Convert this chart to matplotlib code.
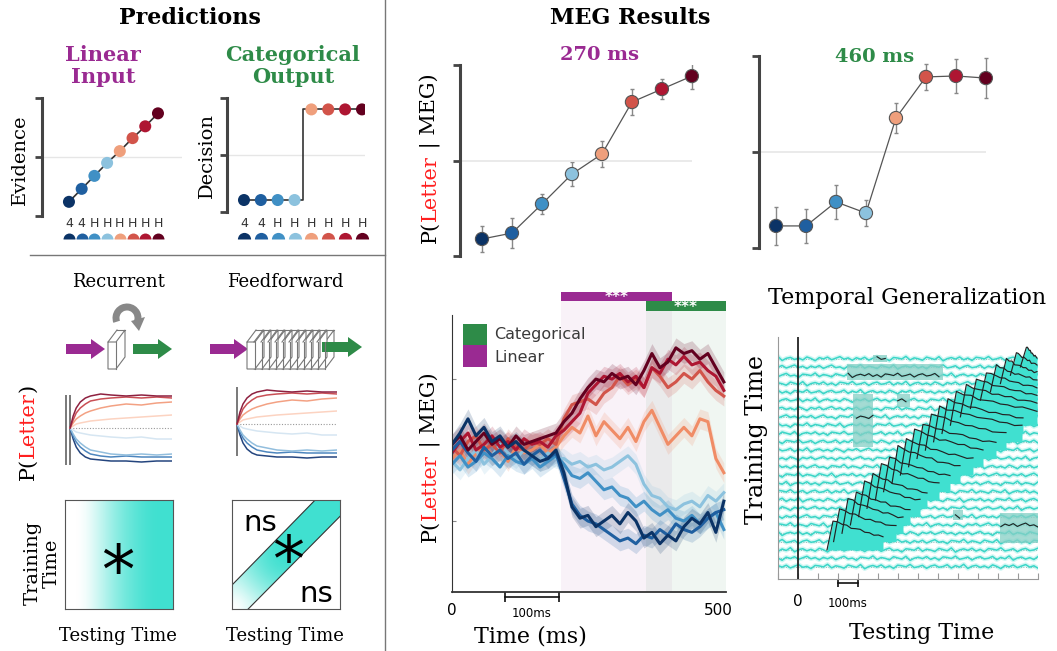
import numpy as np
import matplotlib
matplotlib.use('Agg')
from matplotlib import pyplot as plt
from matplotlib import patches
from matplotlib.colors import LinearSegmentedColormap

W, H = 1057, 651
SERIF = 'DejaVu Serif'
SANS = 'DejaVu Sans'
PURPLE = '#9a2a92'
GREEN = '#2e8b48'
TURQ = '#40e0d0'
LETTER_RED = '#ff1f1f'

# ---------------- data ----------------
stim_idx = [1, 2, 3, 4, 5, 6, 7, 8]
stim_glyphs = ['4', '4', 'H', 'H', 'H', 'H', 'H', 'H']
stim_colors = ['#0b3366', '#1f5fa0', '#4090c5', '#8cc2de', '#ef9f7c', '#d2544a', '#ae1632', '#63001f']

# predictions
linear_evidence = [0.12, 0.23, 0.34, 0.45, 0.55, 0.66, 0.76, 0.87]
categorical_decision = [0.105, 0.105, 0.105, 0.105, 0.90, 0.90, 0.90, 0.90]

# model simulations (offset from chance, arbitrary units)
sim_step = [0, 3, 6, 10, 15, 20, 30, 40, 55, 70, 85, 100]
sim_navy = [0, -11, -19, -25, -29, -31, -32, -33, -33, -34, -33, -33]
sim_blue = [0, -8, -14, -19, -23, -26, -28, -29, -28, -29, -29, -29]
sim_midblue = [0, -6, -11, -15, -19, -22, -24, -26, -27, -26, -27, -26]
sim_ltblue = [0, -2, -4, -5, -6, -7, -8, -9, -10, -9, -11, -11]
sim_pink = [0, 2, 4, 5, 6, 7, 8, 9, 10, 11, 12, 13]
sim_salmon = [0, 5, 9, 12, 15, 17, 20, 22, 24, 23, 25, 26]
sim_red = [0, 8, 15, 20, 24, 27, 29, 30, 31, 30, 31, 30]
sim_dkred = [0, 12, 20, 26, 30, 32, 34, 33, 32, 33, 32, 32]
sim_colors = ['#24457e', '#4d86be', '#92bedd', '#d6e6f2', '#fcd3c1', '#f3a183', '#c94f55', '#8e2140']

# MEG decoding at two latencies
meg_270 = [0.089, 0.12, 0.272, 0.429, 0.534, 0.806, 0.874, 0.942]
meg_270_err = [0.068, 0.079, 0.052, 0.063, 0.068, 0.068, 0.052, 0.068]
meg_460 = [0.115, 0.115, 0.24, 0.182, 0.677, 0.891, 0.896, 0.885]
meg_460_err = [0.099, 0.089, 0.089, 0.068, 0.078, 0.068, 0.089, 0.104]

# MEG time course (ms)
tc_time = list(range(0, 511, 15))
tc_navy = [0.52, 0.56, 0.61, 0.55, 0.58, 0.53, 0.55, 0.51, 0.53, 0.50, 0.48, 0.46, 0.47, 0.50,
           0.42, 0.30, 0.26, 0.27, 0.23, 0.25, 0.27, 0.24, 0.28, 0.25, 0.19, 0.21, 0.17, 0.20,
           0.18, 0.23, 0.26, 0.24, 0.28, 0.21, 0.32]
tc_blue = [0.50, 0.53, 0.49, 0.46, 0.51, 0.48, 0.50, 0.47, 0.49, 0.45, 0.48, 0.50, 0.47, 0.49,
           0.40, 0.31, 0.27, 0.25, 0.24, 0.22, 0.20, 0.18, 0.19, 0.17, 0.20, 0.19, 0.22, 0.20,
           0.24, 0.22, 0.21, 0.23, 0.26, 0.28, 0.29]
tc_midblue = [0.45, 0.48, 0.44, 0.46, 0.49, 0.47, 0.44, 0.48, 0.46, 0.45, 0.47, 0.44, 0.46, 0.48,
              0.45, 0.41, 0.40, 0.42, 0.39, 0.36, 0.37, 0.34, 0.33, 0.30, 0.32, 0.29, 0.27, 0.29,
              0.26, 0.25, 0.27, 0.24, 0.26, 0.28, 0.22]
tc_ltblue = [0.46, 0.43, 0.47, 0.50, 0.45, 0.48, 0.52, 0.49, 0.47, 0.50, 0.48, 0.46, 0.49, 0.47,
             0.47, 0.45, 0.46, 0.44, 0.45, 0.43, 0.44, 0.46, 0.48, 0.45, 0.38, 0.34, 0.33, 0.30,
             0.29, 0.31, 0.32, 0.30, 0.34, 0.32, 0.35]
tc_salmon = [0.47, 0.50, 0.45, 0.49, 0.52, 0.48, 0.50, 0.46, 0.51, 0.49, 0.50, 0.52, 0.49, 0.51,
             0.55, 0.58, 0.56, 0.62, 0.55, 0.60, 0.57, 0.54, 0.58, 0.53, 0.60, 0.64, 0.58, 0.52,
             0.55, 0.58, 0.55, 0.61, 0.60, 0.47, 0.42]
tc_orange = [0.51, 0.48, 0.53, 0.55, 0.50, 0.52, 0.49, 0.54, 0.51, 0.50, 0.53, 0.52, 0.54, 0.52,
             0.61, 0.66, 0.67, 0.68, 0.66, 0.70, 0.72, 0.76, 0.73, 0.75, 0.72, 0.79, 0.76, 0.72,
             0.74, 0.77, 0.75, 0.78, 0.74, 0.71, 0.69]
tc_red = [0.49, 0.53, 0.56, 0.50, 0.52, 0.55, 0.51, 0.53, 0.50, 0.54, 0.52, 0.53, 0.51, 0.55,
          0.57, 0.60, 0.63, 0.70, 0.73, 0.76, 0.75, 0.77, 0.74, 0.76, 0.72, 0.79, 0.77, 0.82,
          0.80, 0.83, 0.80, 0.81, 0.78, 0.76, 0.71]
tc_dkred = [0.52, 0.55, 0.50, 0.53, 0.56, 0.52, 0.54, 0.51, 0.55, 0.52, 0.53, 0.54, 0.55, 0.56,
            0.60, 0.63, 0.68, 0.72, 0.75, 0.74, 0.77, 0.75, 0.76, 0.73, 0.78, 0.84, 0.79, 0.81,
            0.86, 0.84, 0.85, 0.82, 0.84, 0.79, 0.74]
linear_window = (204, 412)
categorical_window = (364, 514)

# temporal generalization
tg_rows = list(range(26))
tg_wiggle = [0.12, -0.08, 0.18, -0.2, 0.05, 0.25, -0.1, 0.02, -0.28, 0.15, 0.08, -0.05, 0.3,
             -0.18, 0.1, -0.02, -0.22, 0.2, 0.04, -0.12, 0.26, -0.3, 0.0, 0.14, -0.06, 0.22,
             -0.16, 0.08, -0.25, 0.18, 0.1, -0.04, 0.28, -0.14, -0.02, 0.16, -0.24, 0.06, 0.2,
             -0.1, 0.0, 0.24, -0.2, 0.12, -0.08, 0.3, -0.26, 0.04, 0.16, -0.12, 0.08, -0.18,
             0.22, 0.02, -0.28, 0.14, -0.04, 0.2, -0.15, 0.06, 0.26, -0.08, 0.1, -0.22]
tg_sig_rows = list(range(2, 25))
tg_sig_start = [175, 208, 250, 292, 333, 375, 417, 458, 500, 542, 583, 625, 667, 708, 750,
                792, 842, 892, 942, 992, 1042, 1092, 1142]
tg_sig_end = [425, 490, 525, 560, 610, 645, 705, 760, 810, 875, 925, 990, 1040, 1120, 1125,
              1195, 1195, 1195, 1195, 1195, 1195, 1195, 1195]
tg_sig_height = [3.6, 4.0, 4.2, 4.0, 4.3, 4.1, 4.4, 4.2, 4.5, 4.3, 4.5, 4.2, 4.4, 4.3, 4.1,
                 4.0, 3.8, 3.6, 3.4, 3.2, 3.0, 2.8, 2.5]
tg_decay = [1.0, 0.92, 0.86, 0.8, 0.74, 0.7, 0.65, 0.6, 0.56, 0.52, 0.48, 0.45]
# weaker off-diagonal clusters: (t0, t1, row_lo, row_hi)
tg_patches = [(245, 725, 22.4, 24.4), (275, 375, 14.4, 20.8), (375, 445, 24.6, 25.4),
              (495, 560, 19.2, 20.8), (1010, 1200, 2.8, 6.4), (775, 825, 5.6, 6.8)]

# ---------------- figure ----------------
fig = plt.figure(figsize=(W / 100, H / 100), dpi=100)
fig.patch.set_facecolor('white')


def px_axes(x0, y0, x1, y1):
    return fig.add_axes([x0 / W, 1 - y1 / H, (x1 - x0) / W, (y1 - y0) / H])


def bracket(ax, ticks):
    for s in ['top', 'right', 'bottom']:
        ax.spines[s].set_visible(False)
    ax.spines['left'].set_linewidth(2.2)
    ax.spines['left'].set_color('#444')
    ax.set_yticks(ticks)
    ax.set_yticklabels([])
    ax.tick_params(axis='y', length=5, width=2, color='#444')
    ax.set_xticks([])
    ax.patch.set_alpha(0)


# --- prediction: linear input
ax = px_axes(42, 98, 182, 216)
ax.set_xlim(-1.12, 9.89)
ax.set_ylim(0, 1)
bracket(ax, [0, 0.5, 1])
ax.hlines(0.5, -1.12, 9.89, color='#e6e6e6', lw=1)
ax.plot(stim_idx, linear_evidence, color='#333', lw=1.2, zorder=2)
ax.scatter(stim_idx, linear_evidence, s=75, c=stim_colors, zorder=3, lw=0)
for i, g in zip(stim_idx, stim_glyphs):
    ax.text(i, -0.06, g, ha='center', va='center', fontsize=9, color='#333',
            family=SANS, clip_on=False)
for i, c in zip(stim_idx, stim_colors):
    ax.plot(i, -0.195, 'o', ms=8.6, fillstyle='top', color=c, mec='none', clip_on=False)

# --- prediction: categorical output
ax = px_axes(227, 98, 365, 212)
ax.set_xlim(-0.008, 8.18)
ax.set_ylim(0, 1)
bracket(ax, [0, 0.5, 1])
ax.hlines(0.5, -0.008, 8.18, color='#e6e6e6', lw=1)
ax.step(stim_idx, categorical_decision, where='mid', color='#333', lw=1.2, zorder=2)
ax.scatter(stim_idx, categorical_decision, s=75, c=stim_colors, zorder=3, lw=0)
for i, g in zip(stim_idx, stim_glyphs):
    ax.text(i, -0.1, g, ha='center', va='center', fontsize=9, color='#333',
            family=SANS, clip_on=False)
for i, c in zip(stim_idx, stim_colors):
    ax.plot(i, -0.237, 'o', ms=9.5, fillstyle='top', color=c, mec='none', clip_on=False)

# --- model simulations
sims = [sim_navy, sim_blue, sim_midblue, sim_ltblue, sim_pink, sim_salmon, sim_red, sim_dkred]
for rect, ylim, recurrent in [((65, 387, 172, 466), (-38, 41), True),
                              ((236, 387, 337, 466), (-42, 37), False)]:
    ax = px_axes(*rect)
    ax.set_xlim(-5 if recurrent else -1, 100)
    ax.set_ylim(*ylim)
    ax.axis('off')
    ax.hlines(0, 0, 100, color='#999', lw=0.8, linestyles=(0, (1, 1.5)))
    if recurrent:
        ax.vlines([-4, 0], -37, 33, color='#555', lw=1.1)
    else:
        ax.vlines([0], -32, 41, color='#555', lw=1.1)
    for vals, c in zip(sims, sim_colors):
        ax.plot(sim_step, vals, color=c, lw=1.1)

# --- generalization schematics
white_turq = LinearSegmentedColormap.from_list('wt', ['white', TURQ])
grad_stops = [0.0, 0.0, 0.15, 0.35, 0.55, 0.72, 0.85, 0.95, 1.0, 1.0]
ax = px_axes(65, 500, 173, 609)
ax.imshow([grad_stops], cmap=white_turq, extent=(0, 1, 0, 1), aspect='auto',
          interpolation='bicubic', vmin=0, vmax=1)
ax.set_xlim(0, 1)
ax.set_ylim(0, 1)
ax.set_xticks([])
ax.set_yticks([])
for s in ax.spines.values():
    s.set_color('#555')
ax.text(0.49, 0.32, '*', ha='center', va='center', fontsize=48, family=SANS)

diag_stops = np.array([0.0, 0.3, 0.6, 0.85, 1, 1, 1, 1, 1, 1])
ax = px_axes(232, 500, 340, 609)
im = ax.imshow((diag_stops[None, :] + diag_stops[:, None]) / 2, cmap=white_turq,
               extent=(0, 1, 0, 1), origin='lower', aspect='auto',
               interpolation='bicubic', vmin=0, vmax=1)
band = patches.Polygon([(0, 0), (0.15, 0), (1, 0.85), (1, 1), (0.77, 1), (0, 0.22)],
                       transform=ax.transData, fc='none', ec='none')
ax.add_patch(band)
im.set_clip_path(band)
ax.plot([0, 0.77], [0.22, 1], color='#333', lw=0.8)
ax.plot([0.15, 1], [0, 0.85], color='#333', lw=0.8)
ax.set_xlim(0, 1)
ax.set_ylim(0, 1)
ax.set_xticks([])
ax.set_yticks([])
for s in ax.spines.values():
    s.set_color('#555')
ax.text(0.26, 0.79, 'ns', ha='center', va='center', fontsize=21, family=SANS)
ax.text(0.78, 0.14, 'ns', ha='center', va='center', fontsize=21, family=SANS)
ax.text(0.52, 0.42, '*', ha='center', va='center', fontsize=46, family=SANS)

# --- MEG 270 / 460 ms
for rect, xlim, vals, errs in [((460, 65, 700, 256), (0.267, 8.27), meg_270, meg_270_err),
                               ((759, 56, 1000, 248), (0.433, 8.47), meg_460, meg_460_err)]:
    ax = px_axes(*rect)
    ax.set_xlim(*xlim)
    ax.set_ylim(0, 1)
    bracket(ax, [0, 0.5, 1])
    ax.hlines(0.5, xlim[0], 8, color='#e6e6e6', lw=1.2)
    ax.errorbar(stim_idx, vals, yerr=errs, fmt='none', ecolor='#888', elinewidth=1,
                capsize=1.5, zorder=1)
    ax.plot(stim_idx, vals, color='#555', lw=0.9, zorder=2)
    ax.scatter(stim_idx, vals, s=90, c=stim_colors, edgecolors='#555', lw=0.8, zorder=3)

# --- MEG time course
ax = px_axes(452, 301, 726, 592)
ax.set_xlim(0, 514)
ax.set_ylim(0, 1.025)
ax.axvspan(*linear_window, color=PURPLE, alpha=0.06, lw=0, zorder=0)
ax.axvspan(*categorical_window, color=GREEN, alpha=0.07, lw=0, zorder=0)
tc_series = [tc_salmon, tc_ltblue, tc_orange, tc_midblue, tc_red, tc_blue, tc_dkred, tc_navy]
tc_colors = ['#f08c66', '#8cc2de', '#d2544a', '#4090c5', '#ae1632', '#1f5fa0', '#63001f', '#0b3366']
for vals, c in zip(tc_series, tc_colors):
    v = np.array(vals)
    ax.fill_between(tc_time, v - 0.035, v + 0.035, color=c, alpha=0.18, lw=0, zorder=1)
    ax.plot(tc_time, v, color=c, lw=2.2, zorder=2)
for s in ['top', 'right']:
    ax.spines[s].set_visible(False)
ax.spines['left'].set_bounds(0, 0.975)
ax.spines['left'].set_color('#333')
ax.spines['bottom'].set_color('#333')
ax.spines['bottom'].set_linewidth(1.3)
ax.set_yticks([0.25, 0.5, 0.75])
ax.set_yticklabels([])
ax.tick_params(axis='y', direction='in', length=3, color='#888')
ax.set_xticks([0, 500])
ax.set_xticklabels(['0', '500'], family=SANS, fontsize=11)
ax.tick_params(axis='x', length=0, pad=8)
ax.patch.set_alpha(0)
ax.add_patch(patches.Rectangle((linear_window[0], 1.025), linear_window[1] - linear_window[0],
                               0.032, color=PURPLE, clip_on=False, lw=0))
ax.text(sum(linear_window) / 2, 1.036, '***', color='white', ha='center', va='center',
        fontsize=11, fontweight='bold', family=SANS, clip_on=False)
ax.add_patch(patches.Rectangle((categorical_window[0], 0.99),
                               categorical_window[1] - categorical_window[0], 0.035,
                               color=GREEN, clip_on=False, lw=0))
ax.text(sum(categorical_window) / 2, 1.002, '***', color='white', ha='center', va='center',
        fontsize=11, fontweight='bold', family=SANS, clip_on=False)
ax.plot([100, 200], [-0.018, -0.018], color='#111', lw=1.2, clip_on=False)
ax.vlines([100, 200], -0.035, 0.0, color='#111', lw=1.2, clip_on=False)
ax.text(150, -0.074, '100ms', ha='center', va='center', fontsize=8.5, family=SANS,
        clip_on=False)

# --- temporal generalization
ax = px_axes(778, 337, 1038, 579)
ax.set_xlim(-100, 1200)
ax.set_ylim(-1.5, 27.6)
tg_grid = np.linspace(-100, 1200, len(tg_wiggle))
wig = np.array(tg_wiggle)
ax.hlines(tg_rows, -100, 1200, colors='#9a9a9a', lw=0.6, linestyles=(0, (1, 2)), zorder=1)
row_lines = {}
for k in tg_rows:
    yk = k + 0.9 * np.roll(wig, 11 * k)
    row_lines[k] = yk
    ax.plot(tg_grid, yk, color=TURQ, lw=3.2, alpha=0.25, zorder=1)
    ax.plot(tg_grid, yk, color='#3bd6c8', lw=1.1, zorder=1)
for t0, t1, k0, k1 in tg_patches:
    ax.add_patch(patches.Rectangle((t0, k0), t1 - t0, k1 - k0, color='#86cfc5', alpha=0.75,
                                   lw=0, zorder=2))
    k = int(round((k0 + k1) / 2))
    m = (tg_grid >= t0) & (tg_grid <= t1)
    ax.plot(tg_grid[m], row_lines[k][m], color='#222', lw=0.8, zorder=4)
blacks = []
for k, ts, te, h in zip(tg_sig_rows, tg_sig_start, tg_sig_end, tg_sig_height):
    x = np.r_[ts - 30, np.linspace(ts, te, len(tg_decay))]
    y = np.r_[k, k + h * np.array(tg_decay) + 0.5 * np.roll(wig, 5 * k)[:len(tg_decay)]]
    ax.fill_between(x, k, y, color=TURQ, lw=0, zorder=3)
    blacks.append((x, y))
for xs, ys in blacks:
    ax.plot(xs, ys, color='#222', lw=0.85, zorder=4)
ax.axvline(0, color='#222', lw=1.3, zorder=5)
for s in ['top', 'right']:
    ax.spines[s].set_visible(False)
ax.spines['left'].set_color('#999')
ax.spines['bottom'].set_color('#999')
ax.set_xticks(range(-100, 1201, 100))
ax.set_xticklabels([])
ax.set_yticks([])
ax.tick_params(axis='x', direction='in', length=4, color='#999')
ax.patch.set_alpha(0)
ax.text(0, -4.2, '0', ha='center', va='center', fontsize=11, family=SANS, clip_on=False)
ax.plot([200, 300], [-2.0, -2.0], color='#111', lw=1.2, clip_on=False)
ax.vlines([200, 300], -2.5, -1.5, color='#111', lw=1.2, clip_on=False)
ax.text(250, -4.4, '100ms', ha='center', va='center', fontsize=8.5, family=SANS,
        clip_on=False)

# ---------------- overlay text and schematics ----------------
cv = fig.add_axes([0, 0, 1, 1], zorder=10)
cv.set_xlim(0, W)
cv.set_ylim(H, 0)
cv.axis('off')

cv.plot([385, 385], [0, H], color='#777', lw=1)
cv.plot([30, 385], [255, 255], color='#777', lw=1)

cv.text(190, 18, 'Predictions', ha='center', va='center', fontsize=16, fontweight='bold', family=SERIF)
cv.text(630, 18, 'MEG Results', ha='center', va='center', fontsize=16, fontweight='bold', family=SERIF)
cv.text(103, 66, 'Linear\nInput', ha='center', va='center', fontsize=15, fontweight='bold',
        color=PURPLE, family=SERIF, linespacing=1.1)
cv.text(293, 66, 'Categorical\nOutput', ha='center', va='center', fontsize=15, fontweight='bold',
        color=GREEN, family=SERIF, linespacing=1.1)
cv.text(20, 160, 'Evidence', rotation=90, ha='center', va='center', fontsize=14, family=SERIF)
cv.text(207, 155, 'Decision', rotation=90, ha='center', va='center', fontsize=14, family=SERIF)
cv.text(118, 282, 'Recurrent', ha='center', va='center', fontsize=13, family=SERIF)
cv.text(285, 282, 'Feedforward', ha='center', va='center', fontsize=13, family=SERIF)
cv.text(118, 636, 'Testing Time', ha='center', va='center', fontsize=13, family=SERIF)
cv.text(285, 636, 'Testing Time', ha='center', va='center', fontsize=13, family=SERIF)
cv.text(42, 563, 'Training\nTime', rotation=90, ha='center', va='center', fontsize=14,
        family=SERIF, linespacing=1.05)
cv.text(600, 55, '270 ms', ha='center', va='center', fontsize=14, fontweight='bold',
        color=PURPLE, family=SERIF)
cv.text(875, 57, '460 ms', ha='center', va='center', fontsize=14, fontweight='bold',
        color=GREEN, family=SERIF)
cv.text(530, 636, 'Time (ms)', ha='center', va='center', fontsize=16, family=SERIF)
cv.text(907, 298, 'Temporal Generalization', ha='center', va='center', fontsize=16, family=SERIF)
cv.text(922, 633, 'Testing Time', ha='center', va='center', fontsize=16, family=SERIF)
cv.text(757, 440, 'Training Time', rotation=90, ha='center', va='center', fontsize=17, family=SERIF)

# legend of time course
cv.add_patch(patches.Rectangle((463, 324), 24, 21, color=GREEN, lw=0))
cv.add_patch(patches.Rectangle((463, 345), 24, 22, color=PURPLE, lw=0))
cv.text(494, 335, 'Categorical', va='center', fontsize=11.5, color='#3a3a3a', family=SANS)
cv.text(494, 357, 'Linear', va='center', fontsize=11.5, color='#3a3a3a', family=SANS)

renderer = fig.canvas.get_renderer()


def colored_vtext(x, yc, pieces, size):
    objs = [cv.text(x, 0, s, rotation=90, ha='center', va='bottom', fontsize=size,
                    color=c, family=SERIF) for s, c in pieces]
    hs = [t.get_window_extent(renderer).height for t in objs]
    y = yc + sum(hs) / 2
    for t, h in zip(objs, hs):
        t.set_y(y)
        y -= h


meg_label = [('P(', 'black'), ('Letter', LETTER_RED), (' | MEG)', 'black')]
colored_vtext(430, 158, meg_label, 15)
colored_vtext(430, 457, meg_label, 15)
colored_vtext(28, 432, [('P(', 'black'), ('Letter', LETTER_RED), (')', 'black')], 15)


# arrows and layer slabs
def arrow(x0, x1, y, color):
    cv.add_patch(patches.FancyArrow(x0, y, x1 - x0, 0, width=10, head_width=20,
                                    head_length=14, length_includes_head=True,
                                    color=color, lw=0))


def slab(x0, y0, w=8, h=27, dx=9, dy=-12):
    pts = [(x0, y0), (x0 + w, y0), (x0 + w + dx, y0 + dy), (x0 + w + dx, y0 + h + dy),
           (x0 + w, y0 + h), (x0, y0 + h)]
    cv.add_patch(patches.Polygon(pts, closed=True, fc='white', ec='#777', lw=0.8))
    cv.plot([x0 + w, x0 + w], [y0, y0 + h], color='#777', lw=0.8)
    cv.plot([x0, x0 + dx], [y0, y0 + dy], color='#777', lw=0.8)
    cv.plot([x0 + dx, x0 + w + dx], [y0 + dy, y0 + dy], color='#777', lw=0.8)


arrow(66, 105, 349, PURPLE)
slab(108, 342)
arrow(133, 172, 349, GREEN)
cv.add_patch(patches.Arc((127, 318), 22, 22, theta1=160, theta2=30, color='#888', lw=5))
cv.add_patch(patches.Polygon([(131, 321), (145, 317), (139, 331)], color='#888', lw=0))

arrow(210, 248, 349, PURPLE)
for x0 in range(317, 246, -7):
    slab(x0, 342)
arrow(322, 362, 347, GREEN)

fig.savefig('out.png', dpi=100, facecolor='white')
